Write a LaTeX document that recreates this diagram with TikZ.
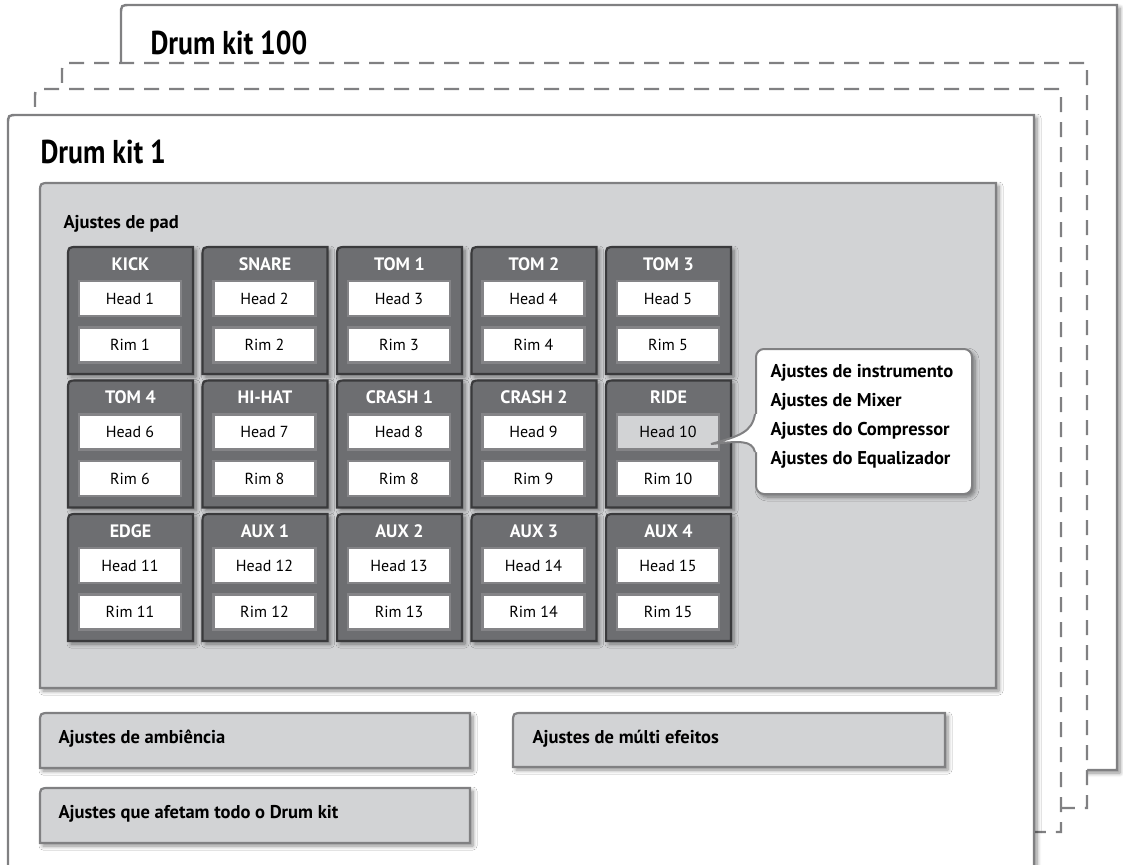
\documentclass[tikz,border=0pt]{standalone}
\usepackage{fontspec}
\setmainfont{PT Sans}
\newfontfamily\titlefont{PT Sans}[FakeStretch=0.84]
\usetikzlibrary{shadows.blur}

\definecolor{frameline}{HTML}{808082}
\definecolor{panelfill}{HTML}{D2D3D5}
\definecolor{blockfill}{HTML}{6D6E71}
\definecolor{blockline}{HTML}{3A3A3C}
\definecolor{boxline}{HTML}{848487}

% caixa com canto superior esquerdo arredondado: estilo, x1, y1, x2, y2
\newcommand{\tlbox}[5]{%
  \draw[#1] (#2,#5) -- (#2,#3+10) .. controls (#2,#3) .. (#2+10,#3) -- (#4,#3) -- (#4,#5) -- cycle;}

\begin{document}
\begin{tikzpicture}[x=1pt, y=-1pt,
  boxshadow/.style={blur shadow={shadow xshift=3pt, shadow yshift=-3pt, shadow blur radius=4pt, shadow blur steps=6, shadow opacity=45}},
  frame/.style={draw=frameline, line width=2.4, fill=white},
  dframe/.style={draw=frameline, line width=2.4, fill=white, dash pattern=on 15pt off 10pt},
  panel/.style={draw=frameline, line width=2.2, fill=panelfill, boxshadow},
  padblock/.style={draw=blockline, line width=2.2, fill=blockfill, boxshadow},
  padtitle/.style={anchor=base, text=white, font=\bfseries\fontsize{18}{20}\selectfont},
  headbox/.style={draw=boxline, line width=2.2, fill=white, minimum width=102, minimum height=35, inner sep=0, font=\fontsize{16}{18}\selectfont},
  headsel/.style={headbox, fill=panelfill},
  label/.style={anchor=base west, font=\bfseries\fontsize{18.5}{20}\selectfont},
  kittitle/.style={anchor=base west, font=\titlefont\bfseries\fontsize{33}{36}\selectfont}]
  \useasboundingbox (0,0) rectangle (1123,864);
  \clip (0,0) rectangle (1123,864);
  % kits empilhados
  \tlbox{frame, boxshadow}{121}{5}{1117}{770}
  \node[kittitle] (kit100) at (147,55) {Drum kit 100};
  \tlbox{dframe}{62}{63}{1087}{808}
  \tlbox{dframe}{35}{89}{1061}{832}
  \tlbox{frame, boxshadow}{8}{115}{1034}{900}
  \node[kittitle] (kit1) at (37,163) {Drum kit 1};
  % ajustes de pad
  \tlbox{panel}{40}{183}{996}{688}
  \node[label] (pad) at (60,228) {Ajustes de pad};
  \foreach \col/\row/\lbl/\hd/\rim/\hs in {
      0/0/KICK/Head 1/Rim 1/headbox, 1/0/SNARE/Head 2/Rim 2/headbox,
      2/0/TOM 1/Head 3/Rim 3/headbox, 3/0/TOM 2/Head 4/Rim 4/headbox,
      4/0/TOM 3/Head 5/Rim 5/headbox,
      0/1/TOM 4/Head 6/Rim 6/headbox, 1/1/HI-HAT/Head 7/Rim 8/headbox,
      2/1/CRASH 1/Head 8/Rim 8/headbox, 3/1/CRASH 2/Head 9/Rim 9/headbox,
      4/1/RIDE/Head 10/Rim 10/headsel,
      0/2/EDGE/Head 11/Rim 11/headbox, 1/2/AUX 1/Head 12/Rim 12/headbox,
      2/2/AUX 2/Head 13/Rim 13/headbox, 3/2/AUX 3/Head 14/Rim 14/headbox,
      4/2/AUX 4/Head 15/Rim 15/headbox} {
    \pgfmathsetmacro\bx{68+134.5*\col}
    \pgfmathsetmacro\by{247+133.5*\row}
    \tlbox{padblock}{\bx}{\by}{\bx+125}{\by+127}
    \node[padtitle] (t\row\col) at (\bx+62.5,\by+23) {\lbl};
    \node[\hs] (h\row\col) at (\bx+62,\by+51.5) {\hd};
    \node[headbox] (r\row\col) at (\bx+62,\by+98) {\rim};
  }
  % balao de ajustes
  \node[draw=frameline, line width=2, fill=white, rounded corners=8, boxshadow,
    minimum width=216, minimum height=145] (info) at (864,421.5) {};
  \coordinate (tip) at (711,444);
  \fill[white] (755,414) .. controls (752,432) and (740,436) .. (tip)
    .. controls (740,441) and (752,440) .. (755,452) -- (759,452) -- (759,414) -- cycle;
  \draw[frameline, line width=2] (755,414) .. controls (752,432) and (740,436) .. (tip)
    .. controls (740,441) and (752,440) .. (755,452);
  \foreach \i/\txt in {0/Ajustes de instrumento, 1/Ajustes de Mixer,
      2/Ajustes do Compressor, 3/Ajustes do Equalizador}
    \node[label] (info\i) at (767,377+29*\i) {\txt};
  % outros ajustes
  \tlbox{panel}{40}{713}{470}{768}
  \node[label] (amb) at (55,743) {Ajustes de ambiência};
  \tlbox{panel}{513}{713}{945}{767}
  \node[label] (mfx) at (529,743) {Ajustes de múlti efeitos};
  \tlbox{panel}{40}{788}{470}{843}
  \node[label] (geral) at (55,818) {Ajustes que afetam todo o Drum kit};
\end{tikzpicture}
\end{document}
